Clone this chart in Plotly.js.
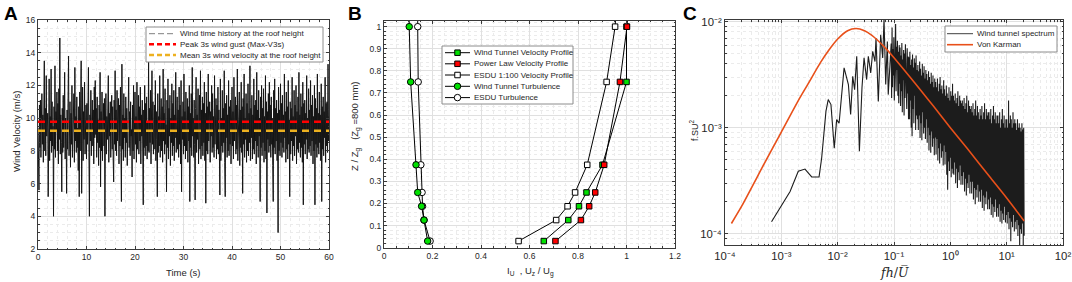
<!DOCTYPE html>
<html><head><meta charset="utf-8">
<script src="https://cdn.plot.ly/plotly-3.0.1.min.js"></script>
<style>html,body{margin:0;padding:0;background:#fff}#chart{width:1072px;height:282px}</style>
</head><body><div id="chart"></div>
<script>
// ---------- Panel A: wind velocity time history (m/s), sampled every 0.1 s ----------
const timeStep = 0.1;
const windVelocity = [
9.4,7.9,5.6,10.8,8.2,11.1,7.6,9.9,11.5,8.4,10.2,7.3,9.1,13.5,8.0,10.6,7.7,12.6,8.9,9.8,
10.3,5.2,9.0,12.4,7.4,10.1,8.6,13.0,7.9,11.0,8.3,9.5,4.0,10.7,8.1,13.2,7.6,10.4,9.2,11.6,
8.0,10.9,7.2,11.8,8.7,14.9,7.8,10.2,8.5,5.5,10.6,7.9,11.4,8.2,9.7,12.8,7.5,10.0,8.8,5.4,
10.5,8.1,11.2,13.8,7.7,9.6,11.0,7.0,10.3,8.4,12.0,7.6,9.9,8.9,11.5,7.3,13.1,8.6,10.1,7.9,
11.3,8.2,9.4,6.8,10.7,5.2,11.6,8.0,10.0,13.5,5.4,9.8,11.9,7.4,10.4,8.7,12.2,7.8,9.3,10.8,
7.5,10.9,8.4,11.4,13.1,7.9,4.0,10.2,8.6,11.7,7.7,9.7,11.1,8.3,10.5,7.2,11.9,8.8,12.3,9.0,
10.6,7.6,11.3,8.5,9.9,7.1,10.8,8.2,12.8,5.8,10.4,8.0,11.6,7.4,9.5,10.9,8.3,11.2,4.0,9.7,
11.5,7.8,10.1,8.7,11.8,12.6,7.3,10.3,8.9,11.0,7.6,9.8,11.4,8.1,10.7,7.5,6.1,11.1,8.4,12.9,
8.0,10.5,7.7,11.7,8.6,9.4,11.2,7.2,10.8,8.3,11.9,7.9,4.9,13.3,8.1,10.2,7.4,11.5,8.8,10.0,
7.6,11.3,8.5,10.6,7.1,9.9,11.8,12.5,8.2,10.4,7.7,11.0,8.9,9.3,6.4,10.8,8.0,12.0,7.5,10.3,
11.6,8.4,10.1,7.3,12.2,8.1,9.6,11.4,7.8,10.7,8.6,11.9,7.2,10.2,8.9,11.1,6.9,4.7,10.5,8.2,
12.0,7.7,10.9,8.3,11.3,7.5,9.8,8.0,13.6,7.9,10.6,8.5,11.7,7.2,10.0,12.9,8.4,11.0,7.8,9.5,
10.8,8.1,12.3,7.4,10.4,8.7,5.2,11.5,7.9,10.1,8.3,12.6,7.6,9.9,11.2,8.0,10.7,7.3,13.0,8.6,
10.3,7.8,11.8,8.4,9.6,5.5,11.1,8.2,12.4,7.5,10.6,8.9,11.4,7.1,10.0,8.5,12.1,7.7,10.9,8.3,
11.7,7.4,10.2,8.8,12.8,7.9,9.7,11.3,8.1,10.5,7.6,11.9,8.4,10.8,7.2,12.3,5.5,10.1,8.7,11.0,
7.8,12.7,8.3,10.4,7.5,11.6,8.0,9.8,11.2,7.3,10.7,8.6,12.0,4.9,10.3,8.2,11.5,7.7,13.1,8.9,
10.0,7.6,11.1,8.4,5.0,10.6,12.5,7.9,10.2,8.7,11.8,7.2,9.9,11.4,8.1,12.9,7.5,10.5,8.3,11.3,
7.7,10.9,8.5,12.2,7.4,10.3,4.8,11.6,8.0,10.7,7.8,12.7,8.6,9.6,11.0,7.3,10.4,8.9,12.0,7.9,
11.5,8.2,10.1,7.6,12.6,8.4,9.7,11.2,7.5,10.8,8.1,11.9,7.8,10.5,8.7,5.3,12.4,7.4,10.0,8.3,
11.7,7.9,10.6,8.5,12.9,7.3,5.2,10.9,8.8,11.4,7.6,10.2,8.0,12.3,7.7,10.7,8.4,11.1,7.2,9.8,
11.9,8.3,10.4,7.5,12.5,8.6,9.5,11.3,7.8,10.8,8.1,13.0,7.4,10.1,8.9,11.6,7.1,10.5,8.2,12.2,
7.9,10.7,5.4,11.2,8.4,12.7,7.6,10.0,8.7,11.5,7.3,10.9,8.0,12.1,7.7,10.3,8.5,13.2,7.4,10.6,
8.8,11.4,7.5,10.2,8.1,12.4,7.8,10.8,8.6,11.1,7.2,12.8,8.3,10.5,7.6,11.7,8.9,10.0,4.9,11.3,
8.2,12.0,7.7,10.6,8.5,11.8,7.3,10.1,8.0,12.6,7.5,11.0,4.2,10.4,8.7,11.5,7.9,12.2,8.3,10.8,
7.6,11.3,8.4,10.0,7.1,4.9,11.7,8.2,12.4,7.8,10.6,8.6,11.1,7.4,10.3,3.0,11.9,8.0,10.5,7.7,
12.1,8.5,10.9,7.6,11.4,8.2,10.2,7.9,12.7,8.8,10.4,7.3,11.6,8.1,10.7,7.5,12.3,8.4,9.9,5.2,
11.0,7.8,10.6,8.6,12.5,7.4,10.1,8.3,11.7,7.7,10.8,8.9,12.0,7.2,10.4,8.1,11.3,7.9,12.8,8.5,
10.2,7.6,11.5,8.2,10.7,7.3,12.2,4.7,10.9,8.4,11.1,7.8,10.3,8.7,12.6,7.5,10.0,8.1,11.8,7.9,
10.5,8.3,12.3,7.7,10.8,8.6,11.4,7.2,10.1,8.0,12.0,4.7,11.2,8.4,10.6,7.6,12.7,8.2,10.3,7.8,
11.6,8.5,10.2,7.4,12.1,4.9,10.7,8.1,11.3,7.7,10.4,8.8,12.5,7.3,10.9,8.3,11.0,7.9,13.3,8.6,
10.1];
const peakGust3s = 9.78;     // Max-V3s
const meanVelocity3s = 9.23;
const timeRange = [0, 60];
const legendA = ['Wind time history at the roof height', 'Peak 3s wind gust (Max-V3s)', 'Mean 3s wind velocity at the roof height'];

// ---------- Panel B: profiles ----------
const heightRatio   = [0.03, 0.125, 0.1875, 0.25, 0.375, 0.75, 1.0, 1.25];
const wtVelocity    = [0.659, 0.760, 0.804, 0.835, 0.901, 1.000, 1.000, 1.000];
const powerLawVel   = [0.707, 0.812, 0.846, 0.871, 0.908, 0.973, 1.002, 1.020];
const esduVelocity  = [0.555, 0.710, 0.757, 0.788, 0.838, 0.918, 0.953, 0.968];
const wtTurbulence  = [0.180, 0.165, 0.155, 0.139, 0.132, 0.110, 0.104, 0.103];
const esduTurbulence= [0.190, 0.165, 0.159, 0.157, 0.152, 0.141, 0.139, 0.139];
const legendB = ['Wind Tunnel Velocity Profile', 'Power Law Velocity Profile', 'ESDU 1:100 Velocity Profile', 'Wind Tunnel Turbulence', 'ESDU Turbulence'];

// ---------- Panel C: spectra ----------
const specLowX = [6.7e-4,1.43e-3,2.0e-3,2.63e-3,3.46e-3,4.67e-3,5.2e-3,6.2e-3,6.8e-3,7.6e-3,8.7e-3,9.6e-3,0.0106,0.013,0.0155,0.017,0.0185,0.02,0.0218,0.0243,0.027,0.0294,0.0327,0.035,0.0386,0.0419,0.046,0.0479,0.0527,0.058,0.063,0.0665,0.0713,0.0762,0.079,0.085];
const specLowY = [1.3e-4,2.5e-4,3.88e-4,4.07e-4,3.43e-4,3.43e-4,5.18e-4,1.43e-3,1.84e-3,1.65e-3,6.4e-4,1.19e-3,1.1e-3,3.66e-3,2.55e-3,1.33e-3,3.05e-3,2.28e-3,4.7e-3,6.0e-4,2.37e-3,4.55e-3,2.84e-3,4.7e-3,3.28e-3,5.25e-3,4.2e-3,7.0e-3,1.77e-3,7.5e-3,4.55e-3,1.05e-2,2.55e-3,6.5e-3,2.05e-3,4.9e-3];
// dense high-frequency part: log-spaced samples of fh/U from 10^-1.05 to 10^1.31, values in units of 1e-4
const denseLogStart = -1.05, denseLogEnd = 1.31;
const specDenseE4 = [
62,19,88,24,55,31,71,18,49,27,95,22,58,35,66,20,52,17,60,26,
57,16,48,22,63,14,44,28,54,13,50,19,61,25,42,15,56,21,47,12,
46,12,52,18,39,10,44,8.3,49,15,37,11,45,20,41,9.5,48,13,35,12,
39,9.5,34,13,42,8,36,11,31,7.6,40,14,33,8.8,38,10,29,7.8,35,12,
32,7.2,28,10,34,6.1,30,8.5,26,5.8,33,9.2,27,6.6,31,7.9,24,5.5,29,8.1,
27,5.6,24,7.8,29,4.9,22,6.4,26,4.6,30,7.1,23,5.2,25,6.0,21,4.4,28,6.8,
23,4.5,20,5.9,25,3.6,21,2.6,19,4.8,24,3.9,18,5.2,22,3.4,20,4.1,26,3.7,
20,3.6,18,4.7,21,3.0,17,4.1,19,2.7,22,3.8,16,3.2,20,4.4,18,2.9,17,3.5,
18,2.9,16,3.8,19,2.5,15,3.3,17,2.3,20,3.0,14,2.7,18,3.6,16,2.4,15,3.1,
16,2.4,14,3.1,17,2.1,13,2.7,15,1.9,18,2.6,13,2.2,16,2.9,14,2.0,12,2.5,
15,2.0,13,2.6,16,1.75,12,2.3,14,1.65,17,2.2,12,1.9,15,2.5,13,1.7,14,2.1,
14,1.7,12,2.2,15,1.5,11,1.9,13,1.42,16,1.8,12,1.6,14,2.1,11,1.45,13,1.75,
13,1.45,11,1.9,14,1.3,10,1.65,12,1.25,15,1.55,11,1.35,13,1.8,10,1.28,12,1.5,
12,1.25,10,1.6,18,1.1,11,1.4,13,0.85,12,1.3,10,1.15,14,1.5,11,1.05,12,1.3,
11,1.1,9.5,1.35,12,0.95,10,1.2,11,0.75,10,1.1,9.2,1.0,11,1.25,9.6,0.78,10,0.96];
const vonKarmanX = [1.3e-4,2e-4,5e-4,1e-3,2e-3,3e-3,5e-3,7e-3,0.01,0.015,0.0212,0.03,0.04,0.05,0.07,0.1,0.2,0.3,0.5,1,2,5,10,20.4];
const vonKarmanY = [1.25e-4,1.84e-4,4.6e-4,9.1e-4,1.8e-3,2.6e-3,4.15e-3,5.4e-3,6.85e-3,8.2e-3,8.6e-3,8.2e-3,7.46e-3,6.74e-3,5.65e-3,4.56e-3,2.93e-3,2.24e-3,1.6e-3,1.0e-3,6.35e-4,3.44e-4,2.17e-4,1.32e-4];
const legendC = ['Wind tunnel spectrum', 'Von Karman'];
const logTicksX = [1e-4, 1e-3, 1e-2, 1e-1, 1e0, 1e1, 1e2];
const logTicksXText = ['10⁻⁴', '10⁻³', '10⁻²', '10⁻¹', '10⁰', '10¹', '10²'];
const logTicksY = [1e-4, 1e-3, 1e-2];
const logTicksYText = ['10⁻⁴', '10⁻³', '10⁻²'];

// ---------- build ----------
const W = 1072, H = 282;
const px = x => x / W, py = y => 1 - y / H;
const FONT = 'Liberation Sans, Arial, Helvetica, sans-serif';
const TXT = '#262626';

const time = windVelocity.map((_, i) => +(i * timeStep).toFixed(2));
const nD = specDenseE4.length;
const denseX = specDenseE4.map((_, k) => Math.pow(10, denseLogStart + k * (denseLogEnd - denseLogStart) / (nD - 1)));
const denseY = specDenseE4.map(v => v * 1e-4);

const sTime = {color: '#141414', width: 1};
const sPeak = {color: '#ff0000', width: 2.5, dash: '7px,5px'};
const sMean = {color: '#edb120', width: 2.5, dash: '7px,5px'};
const sProf = {color: '#000', width: 1};
const mWT = {symbol: 'square', size: 5.5, color: '#00e000', line: {color: '#000', width: 1}};
const mPL = {symbol: 'square', size: 5.5, color: '#ff0000', line: {color: '#000', width: 1}};
const mES = {symbol: 'square', size: 5.5, color: '#ffffff', line: {color: '#000', width: 1}};
const mWTt = {symbol: 'circle', size: 6.5, color: '#00e000', line: {color: '#000', width: 1}};
const mESt = {symbol: 'circle', size: 6.5, color: '#ffffff', line: {color: '#000', width: 1}};
const sSpec = {color: '#1c1c1c', width: 1.1};
const sVK = {color: '#e8501a', width: 1.6, shape: 'spline', smoothing: 0.6};

const traces = [
  {x: time, y: windVelocity, xaxis: 'x', yaxis: 'y', mode: 'lines', name: legendA[0], line: sTime},
  {x: timeRange, y: [peakGust3s, peakGust3s], xaxis: 'x', yaxis: 'y', mode: 'lines', name: legendA[1], line: sPeak},
  {x: timeRange, y: [meanVelocity3s, meanVelocity3s], xaxis: 'x', yaxis: 'y', mode: 'lines', name: legendA[2], line: sMean},
  {x: wtVelocity, y: heightRatio, xaxis: 'x2', yaxis: 'y2', mode: 'lines+markers', name: legendB[0], line: sProf, marker: mWT},
  {x: powerLawVel, y: heightRatio, xaxis: 'x2', yaxis: 'y2', mode: 'lines+markers', name: legendB[1], line: sProf, marker: mPL},
  {x: esduVelocity, y: heightRatio, xaxis: 'x2', yaxis: 'y2', mode: 'lines+markers', name: legendB[2], line: sProf, marker: mES},
  {x: esduTurbulence, y: heightRatio, xaxis: 'x2', yaxis: 'y2', mode: 'lines+markers', name: legendB[4], line: sProf, marker: mESt},
  {x: wtTurbulence, y: heightRatio, xaxis: 'x2', yaxis: 'y2', mode: 'lines+markers', name: legendB[3], line: sProf, marker: mWTt},
  {x: specLowX.concat(denseX), y: specLowY.concat(denseY), xaxis: 'x3', yaxis: 'y3', mode: 'lines', name: legendC[0], line: sSpec},
  {x: vonKarmanX, y: vonKarmanY, xaxis: 'x3', yaxis: 'y3', mode: 'lines', name: legendC[1], line: sVK}
].map(t => Object.assign({type: 'scatter', showlegend: false}, t));

const gridMajor = '#e0e0e0', gridMinor = '#ebebeb', axLine = '#3a3a3a';
function ax(o) {
  return Object.assign({
    showline: true, linecolor: axLine, linewidth: 1, mirror: 'ticks',
    ticks: 'inside', ticklen: 3, tickcolor: axLine, zeroline: false,
    showgrid: true, gridcolor: gridMajor, gridwidth: 1,
    tickfont: {family: FONT, size: 8.5, color: TXT}, automargin: false
  }, o);
}
function minor(d) {
  return {dtick: d, showgrid: true, gridcolor: gridMinor, griddash: 'dot', ticks: 'inside', ticklen: 1.5, tickcolor: axLine};
}
// log-axis tick labels given as an array are drawn by Plotly at 0.75 of tickfont size, so compensate
const logTickFont = {family: FONT, size: 8.5 / 0.75, color: TXT};

const ann = [], shapes = [];
function label(t, x, y, o) { ann.push(Object.assign({text: t, x: px(x), y: py(y), xref: 'paper', yref: 'paper', showarrow: false,
  xanchor: 'center', yanchor: 'middle', font: {family: FONT, size: 9.5, color: TXT}}, o || {})); }
label('<b>A</b>', 2, 13, {xanchor: 'left', font: {family: FONT, size: 19, color: '#000'}});
label('<b>B</b>', 346, 13, {xanchor: 'left', font: {family: FONT, size: 19, color: '#000'}});
label('<b>C</b>', 681, 13, {xanchor: 'left', font: {family: FONT, size: 19, color: '#000'}});
label('Time (s)', 183, 272);
label('Wind Velocity (m/s)', 16, 132, {textangle: -90});
label('I<sub>U</sub>  , U<sub>z</sub> / U<sub>g</sub>', 530, 271);
label('Z / Z<sub>g</sub>   (Z<sub>g</sub> =800 mm)', 355, 126, {textangle: -90});
label('<i>fh</i>/<i>U̅</i>', 894, 272, {font: {family: 'DejaVu Serif, Liberation Serif, serif', size: 12.5, color: TXT}});
label('f.SU<sup>2</sup>', 694, 130, {textangle: -90, font: {family: FONT, size: 9, color: TXT}});

// legend boxes drawn as shapes + text (pixel positions)
function legendBox(x0, y0, x1, y1) {
  shapes.push({type: 'rect', xref: 'paper', yref: 'paper', x0: px(x0), x1: px(x1), y0: py(y1), y1: py(y0),
    line: {color: '#8c8c8c', width: 1}, fillcolor: '#ffffff', layer: 'above'});
}
function legendItem(yc, xl0, xl1, xt, line, marker, text) {
  shapes.push({type: 'line', xref: 'paper', yref: 'paper', x0: px(xl0), x1: px(xl1), y0: py(yc), y1: py(yc),
    line: {color: line.color, width: line.width, dash: line.dash || 'solid'}, layer: 'above'});
  if (marker) {
    const r = marker.size / 2;
    shapes.push({type: marker.symbol === 'circle' ? 'circle' : 'rect', xref: 'paper', yref: 'paper',
      xsizemode: 'pixel', ysizemode: 'pixel', xanchor: px((xl0 + xl1) / 2), yanchor: py(yc),
      x0: -r, x1: r, y0: -r, y1: r, fillcolor: marker.color, line: {color: '#000', width: 1}, layer: 'above'});
  }
  ann.push({text: text, x: px(xt), y: py(yc), xref: 'paper', yref: 'paper', showarrow: false, xanchor: 'left', yanchor: 'middle',
    font: {family: FONT, size: 8, color: TXT}});
}
legendBox(146, 27, 323, 62);
legendItem(33.7, 149, 176, 177.5, {color: '#7f7f7f', width: 1, dash: '6px,3px'}, null, legendA[0]);
legendItem(44.3, 149, 176, 177.5, {color: sPeak.color, width: 2.5, dash: '5px,3px'}, null, legendA[1]);
legendItem(55.0, 149, 176, 177.5, {color: sMean.color, width: 2.5, dash: '5px,3px'}, null, legendA[2]);
legendBox(442, 46, 573, 104);
legendItem(52.7, 445, 470, 472, sProf, mWT, legendB[0]);
legendItem(63.8, 445, 470, 472, sProf, mPL, legendB[1]);
legendItem(75.0, 445, 470, 472, sProf, mES, legendB[2]);
legendItem(86.3, 445, 470, 472, sProf, mWTt, legendB[3]);
legendItem(97.6, 445, 470, 472, sProf, mESt, legendB[4]);
legendBox(945, 26, 1057, 52);
legendItem(33.7, 947, 973, 975, {color: '#404040', width: 1}, null, legendC[0]);
legendItem(44.7, 947, 973, 975, {color: sVK.color, width: 1.6}, null, legendC[1]);

const layout = {
  width: W, height: H, margin: {l: 0, r: 0, t: 0, b: 0}, paper_bgcolor: '#fff', plot_bgcolor: '#fff',
  font: {family: FONT, color: TXT}, showlegend: false,
  xaxis: ax({domain: [px(38), px(329)], range: [0, 60], dtick: 10, anchor: 'y', minor: minor(2)}),
  yaxis: ax({domain: [py(249), py(20)], range: [2, 16], dtick: 2, anchor: 'x', minor: minor(0.5)}),
  xaxis2: ax({domain: [px(384), px(675)], range: [0, 1.2], dtick: 0.2, anchor: 'y2', minor: minor(0.05)}),
  yaxis2: ax({domain: [py(247.7), py(20.7)], range: [0, 1.027], dtick: 0.1, anchor: 'x2', minor: minor(0.02)}),
  xaxis3: ax({domain: [px(725), px(1063)], type: 'log', range: [-4, 2], tickmode: 'array', tickvals: logTicksX, ticktext: logTicksXText,
    tickfont: logTickFont, anchor: 'y3', minor: Object.assign(minor('D1'), {tickmode: 'linear'})}),
  yaxis3: ax({domain: [py(245), py(20)], type: 'log', range: [-4.106, -1.985], tickmode: 'array', tickvals: logTicksY, ticktext: logTicksYText,
    tickfont: logTickFont, anchor: 'x3', minor: Object.assign(minor('D1'), {tickmode: 'linear'})}),
  annotations: ann, shapes: shapes
};
Plotly.newPlot('chart', traces, layout, {displayModeBar: false, staticPlot: true});
</script></body></html>
